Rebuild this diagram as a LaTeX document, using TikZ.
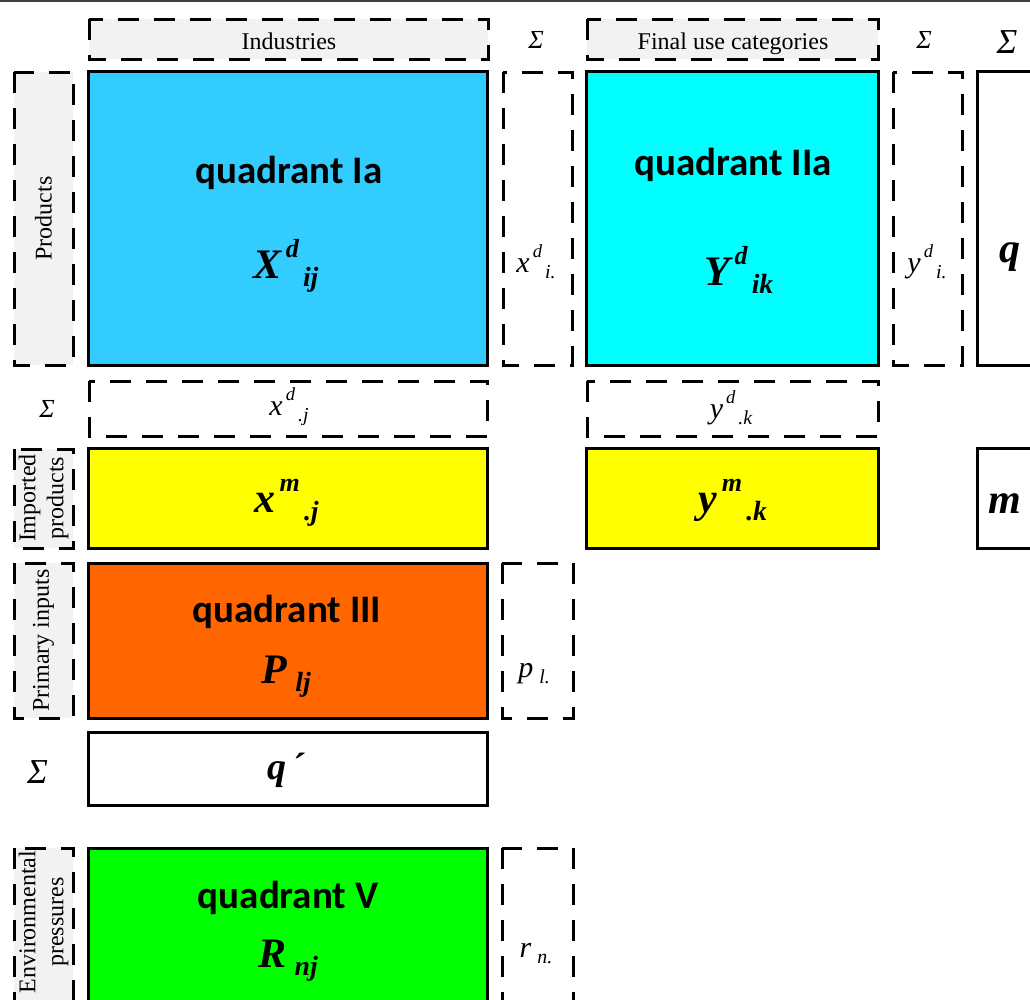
\documentclass[tikz,border=0pt]{standalone}
\usepackage{fontspec}
\setmainfont{Liberation Serif}
\newfontfamily\calibri{Carlito}
\usepackage{xcolor}
\usetikzlibrary{positioning}

\definecolor{labgray}{HTML}{F2F2F2}
\definecolor{cIa}{HTML}{33CCFF}
\definecolor{cIIa}{HTML}{00FFFF}
\definecolor{cimp}{HTML}{FFFF00}
\definecolor{cIII}{HTML}{FF6600}
\definecolor{cV}{HTML}{00FF00}

% base, raised index, lowered index
\newcommand{\iosym}[3]{#1\hspace{0.1em}\raisebox{0.48em}{\scalebox{0.62}{#2}}\hspace{0.1em}\raisebox{-0.2em}{\scalebox{0.66}{#3}}}

\begin{document}
\begin{tikzpicture}[
		x=1pt, y=-1pt,
		box/.style={draw, line width=3pt},
		dbox/.style={draw, line width=3pt, dash pattern=on 21pt off 15pt},
		lab/.style={dbox, fill=labgray},
		side/.style={font=\fontsize{24}{28}\selectfont, rotate=90, align=center},
		head/.style={font=\fontsize{24}{28}\selectfont, anchor=base},
		sig/.style={font=\fontsize{26}{30}\selectfont\itshape, anchor=base},
		bigsig/.style={font=\fontsize{35}{40}\selectfont\itshape, anchor=base},
		quad/.style={font=\calibri\bfseries\fontsize{39}{46}\selectfont, anchor=base},
		sym/.style={font=\fontsize{42}{48}\selectfont\bfseries\itshape, anchor=base},
		val/.style={font=\fontsize{30}{34}\selectfont\itshape, anchor=base}
		]
		\useasboundingbox (0,0) rectangle (1030,999);
		\draw[line width=1.5pt, black!75] (0,1) -- (1030,1);
		
		% Column headers
		\draw[lab] (89,19) rectangle (488,59);
		\node[head] (hInd) at (289,49) {Industries};
		\node[sig] (sgA) at (536,48) {Σ};
		\draw[lab] (587,19) rectangle (878,59);
		\node[head] (hFin) at (733,49) {Final use categories};
		\node[sig] (sgB) at (924,48) {Σ};
		\node[bigsig] (sgC) at (1007,53) {Σ};
		
		% Products row
		\draw[lab] (14,72) rectangle (73,365);
		\node[side] (tProd) at (43.5,218.5) {Products};
		\draw[box, fill=cIa] (88,71) rectangle (487,365);
		\node[quad] (tIa) at (289,183) {quadrant Ia};
		\node[sym] (Xd) at (286,278) {\iosym{X}{d}{ij}};
		\draw[dbox] (503,72) rectangle (572,365);
		\node[val] (xdi) at (536,272) {\iosym{x}{d}{i.}};
		\draw[box, fill=cIIa] (586,71) rectangle (878,365);
		\node[quad] (tIIa) at (733,175) {quadrant IIa};
		\node[sym] (Yd) at (739,285) {\iosym{Y}{d}{ik}};
		\draw[dbox] (893,72) rectangle (962,365);
		\node[val] (ydi) at (927,272) {\iosym{y}{d}{i.}};
		\draw[box] (977,71) rectangle (1040,365);
		\node[sym] (tq) at (1010,262) {q};
		
		% Column sums
		\node[sig] (sgD) at (47,417) {Σ};
		\draw[dbox] (89,381) rectangle (487,436);
		\node[val] (xdj) at (289,415) {\iosym{x}{d}{.j}};
		\draw[dbox] (587,381) rectangle (878,436);
		\node[val] (ydk) at (731,418) {\iosym{y}{d}{.k}};
		
		% Imported products row
		\draw[lab] (14,449) rectangle (73,548);
		\node[side] (tImp) at (43.5,498) {Imported\\products};
		\draw[box, fill=cimp] (88,448) rectangle (487,548);
		\node[sym] (xm) at (286.5,512) {\iosym{x}{m}{.j}};
		\draw[box, fill=cimp] (586,448) rectangle (878,548);
		\node[sym] (ym) at (733,512) {\iosym{y}{m}{.k}};
		\draw[box] (977,448) rectangle (1040,548);
		\node[sym] (tm) at (1005,513) {m};
		
		% Primary inputs row
		\draw[lab] (14,563) rectangle (73,718);
		\node[side] (tPrim) at (43.5,640.5) {Primary inputs};
		\draw[box, fill=cIII] (88,563) rectangle (487,718);
		\node[quad] (tIII) at (287,622) {quadrant III};
		\node[sym] (Pl) at (286,683) {\iosym{P}{}{lj}};
		\draw[dbox] (502,563) rectangle (573,718);
		\node[val] (pl) at (534,677) {\iosym{p}{}{l.}};
		
		% Total input row
		\node[bigsig] (sgE) at (37.5,783) {Σ};
		\draw[box] (88,732) rectangle (487,805);
		\node[sym, font=\fontsize{38}{42}\selectfont\bfseries\itshape] (tqq) at (286,779) {q\hspace{0.15em}´};
		
		% Environmental pressures row
		\draw[lab] (14,848) rectangle (73,1003);
		\node[side] (tEnv) at (43.5,922) {Environmental\\pressures};
		\draw[box, fill=cV] (88,848) rectangle (487,1003);
		\node[quad] (tV) at (288,908) {quadrant V};
		\node[sym] (Rn) at (288,967) {\iosym{R}{}{nj}};
		\draw[dbox] (502,848) rectangle (573,1003);
		\node[val] (rn) at (536,957) {\iosym{r}{}{n.}};
		
	\end{tikzpicture}
\end{document}
